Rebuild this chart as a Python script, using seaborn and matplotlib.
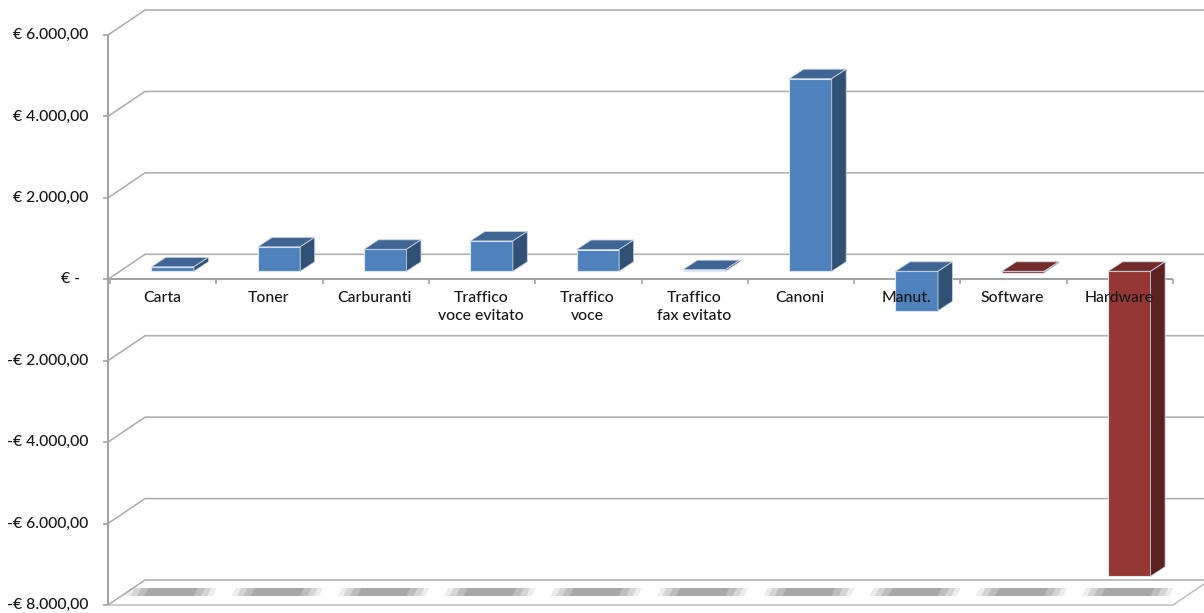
import numpy as np
import pandas as pd
import matplotlib
matplotlib.use("Agg")
import matplotlib.pyplot as plt
import seaborn as sns
from matplotlib.patches import Polygon
from matplotlib.lines import Line2D
from matplotlib.transforms import IdentityTransform, ScaledTranslation
from matplotlib.colors import to_rgb

# ---------------- data ----------------
categories = ["Carta", "Toner", "Carburanti", "Traffico\nvoce evitato", "Traffico\nvoce",
              "Traffico\nfax evitato", "Canoni", "Manut.", "Software", "Hardware"]
values = [110, 600, 540, 745, 535, 40, 4730, -970, -30, -7490]
bar_colors = ["#4f81bd"] * 8 + ["#953735"] * 2
y_ticks = [6000, 4000, 2000, 0, -2000, -4000, -6000, -8000]
y_tick_labels = ["€ 6.000,00", "€ 4.000,00", "€ 2.000,00", "€ -  ", "-€ 2.000,00",
                 "-€ 4.000,00", "-€ 6.000,00", "-€ 8.000,00"]

# ---------------- layout constants (pixels) ----------------
W, H = 1204, 613
BAR_OFF = (9.5, 8.0)     # bar front plane offset from the axis plane
DEPTH = (14.5, 9.5)      # bar depth
WALL = (37.0, 25.0)      # back wall offset
GRID_C = "#adadad"
AXIS_C = "#a3a3a3"
TEXT_C = "#161616"

sns.set_theme(style="white")
plt.rcParams['font.family'] = ['Lato', 'DejaVu Sans']

fig = plt.figure(figsize=(W / 100, H / 100), dpi=100)
fig.patch.set_facecolor("white")
ax = fig.add_axes([110 / W, (H - 605) / H, (1173 - 110) / W, (605 - 35) / H])

df = pd.DataFrame({"cat": categories, "val": values})
sns.barplot(data=df, x="cat", y="val", hue="cat", palette=bar_colors, width=0.4,
            dodge=False, legend=False, ax=ax, zorder=5, saturation=1)
ax.set_xlim(-0.5, len(categories) - 0.5)
ax.set_ylim(min(y_ticks), max(y_ticks))
ax.set_axis_off()

T = ax.transData


def px(x, y):
    return T.transform((x, y))


def line(xs, ys, color, lw, z=1):
    ax.add_line(Line2D(xs, ys, color=color, lw=lw, transform=IdentityTransform(),
                       clip_on=False, zorder=z, solid_capstyle="butt"))


x_left_px = px(-0.5, 0)[0] - 2
x_right_px = px(len(categories) - 0.5, 0)[0]

# ---------------- back wall gridlines ----------------
for v in y_ticks:
    y = px(0, v)[1]
    line([x_left_px, x_left_px + WALL[0], W + 5], [y, y + WALL[1], y + WALL[1]], GRID_C, 1.15, z=0.5)

# floor front edge
y_floor = px(0, min(y_ticks))[1]
line([x_left_px, x_right_px, x_right_px + WALL[0]], [y_floor, y_floor, y_floor + WALL[1]], "#bdbdbd", 1.1, z=0.5)

# floor shading stripes (one per category)
for i in range(len(categories)):
    cx = px(i, 0)[0] + 6
    yb = y_floor + 9
    for frac, a in [(0.82, 0.14), (0.72, 0.2), (0.6, 0.26), (0.46, 0.32)]:
        half = frac * (x_right_px - x_left_px) / len(categories) / 2
        poly = Polygon([(cx - half, yb), (cx + half, yb), (cx + half + 4, yb + 8), (cx - half + 4, yb + 8)],
                       closed=True, facecolor="#7a7a7a", edgecolor="none", alpha=a,
                       transform=IdentityTransform(), clip_on=False, zorder=0.6)
        ax.add_patch(poly)

# ---------------- front axis ----------------
y_top = px(0, max(y_ticks))[1]
line([x_left_px, x_left_px], [y_floor, y_top], AXIS_C, 1.5, z=2)
for v, lab in zip(y_ticks, y_tick_labels):
    y = px(0, v)[1]
    line([x_left_px - 5, x_left_px], [y, y], AXIS_C, 1.2, z=2)
    ax.text(x_left_px - 20, y, lab, transform=IdentityTransform(), ha="right", va="center",
            fontsize=11.3, color=TEXT_C, clip_on=False, zorder=2, fontweight="medium")

y_zero = px(0, 0)[1]
line([x_left_px, x_right_px], [y_zero, y_zero], AXIS_C, 1.5, z=2)
for k in range(len(categories) + 1):
    xk = px(k - 0.5, 0)[0]
    line([xk, xk], [y_zero, y_zero - 5], AXIS_C, 1.2, z=2)
for i, c in enumerate(categories):
    cx = px(i, 0)[0] - 1
    ax.text(cx, y_zero - 12, c, transform=IdentityTransform(), ha="center", va="top",
            fontsize=11.3, color=TEXT_C, linespacing=1.35, clip_on=False, zorder=10,
            multialignment="center", fontweight="medium")

# ---------------- 3D bars ----------------
off = ScaledTranslation(BAR_OFF[0] / 100, BAR_OFF[1] / 100, fig.dpi_scale_trans)
for p in ax.patches:
    if not hasattr(p, "get_width") or p.get_zorder() != 5:
        continue
    x0 = p.get_x()
    x1 = x0 + p.get_width()
    h0 = p.get_y()
    h1 = h0 + p.get_height()
    lo, hi = min(h0, h1), max(h0, h1)
    base = np.array(to_rgb(p.get_facecolor()))
    # front face: the seaborn bar itself, moved into the bar plane
    p.set_transform(T + off)
    p.set_clip_on(False)
    p.set_edgecolor("#dde6f0")
    p.set_linewidth(0.8)
    p.set_zorder(6)
    (ax0, ayh) = px(x0, hi) + np.array(BAR_OFF)
    (ax1, _) = px(x1, hi) + np.array(BAR_OFF)
    (_, ayl) = px(x1, lo) + np.array(BAR_OFF)
    dx, dy = DEPTH
    top = Polygon([(ax0, ayh), (ax1, ayh), (ax1 + dx, ayh + dy), (ax0 + dx, ayh + dy)],
                  closed=True, facecolor=base * 0.78, edgecolor="#c9d3e0", lw=0.6,
                  transform=IdentityTransform(), clip_on=False, zorder=6)
    side = Polygon([(ax1, ayh), (ax1 + dx, ayh + dy), (ax1 + dx, ayl + dy), (ax1, ayl)],
                   closed=True, facecolor=base * 0.62, edgecolor="#c9d3e0", lw=0.6,
                   transform=IdentityTransform(), clip_on=False, zorder=6)
    ax.add_patch(top)
    ax.add_patch(side)

fig.savefig("out.png", dpi=100, facecolor="white")
